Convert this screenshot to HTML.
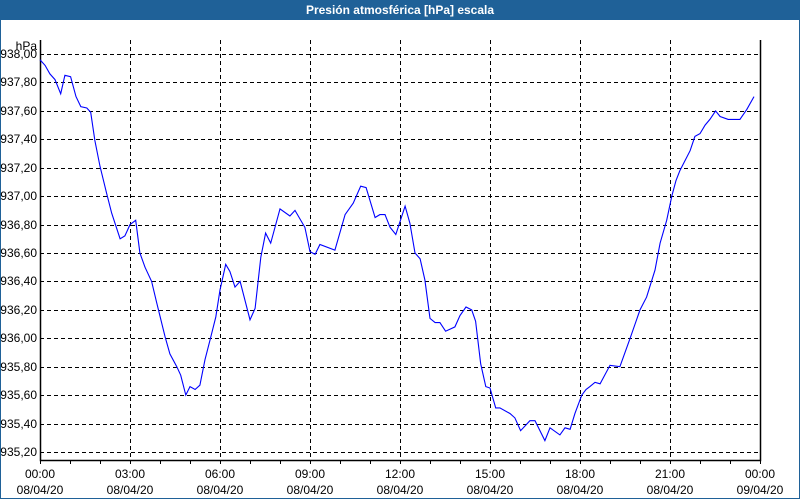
<!DOCTYPE html>
<html><head><meta charset="utf-8"><style>
body{margin:0;width:800px;height:500px;overflow:hidden;background:#fff;font-family:"Liberation Sans",sans-serif}
#frame{position:absolute;left:0;top:0;width:798px;height:498px;border:1px solid #1f6198;border-top:none}
#title{position:absolute;left:0;top:0;width:800px;height:20px;background:#1f6198;color:#fff;font-weight:bold;font-size:12px;text-align:center;line-height:20px}
svg{position:absolute;left:0;top:0}
text{font-family:"Liberation Sans",sans-serif;font-size:12px;fill:#000}
</style></head><body>
<div id="frame"></div>
<div id="title">Presión atmosférica [hPa] escala</div>
<svg id="chart" width="800" height="500"></svg>
<script>
const hours=[0,0.17,0.33,0.5,0.69,0.83,1.02,1.2,1.36,1.56,1.69,1.83,2,2.22,2.39,2.67,2.83,3,3.19,3.33,3.5,3.72,3.89,4.17,4.33,4.56,4.69,4.86,5,5.17,5.33,5.5,5.67,5.86,6,6.19,6.33,6.5,6.67,7,7.17,7.36,7.52,7.69,8,8.33,8.5,8.83,9,9.17,9.33,9.83,10.17,10.44,10.69,10.87,11.17,11.33,11.5,11.67,11.86,12.17,12.33,12.5,12.67,12.83,13,13.17,13.33,13.52,13.83,14,14.2,14.39,14.52,14.69,14.86,15,15.19,15.33,15.67,15.83,16.02,16.33,16.5,16.83,17,17.33,17.5,17.67,17.83,18.06,18.2,18.33,18.5,18.67,19,19.33,19.67,20,20.22,20.5,20.67,20.89,21.06,21.2,21.33,21.67,21.83,22,22.17,22.33,22.52,22.67,22.94,23.33,23.56,23.8];
const pressure=[937.96,937.92,937.86,937.82,937.72,937.85,937.84,937.70,937.63,937.62,937.59,937.39,937.21,937.02,936.88,936.70,936.72,936.80,936.83,936.60,936.50,936.40,936.25,936.01,935.89,935.80,935.74,935.60,935.66,935.64,935.67,935.85,935.99,936.15,936.34,936.52,936.47,936.36,936.40,936.13,936.21,936.57,936.74,936.67,936.91,936.86,936.90,936.78,936.61,936.59,936.66,936.62,936.87,936.95,937.07,937.06,936.85,936.87,936.87,936.78,936.73,936.93,936.81,936.60,936.56,936.41,936.14,936.11,936.11,936.05,936.08,936.16,936.22,936.20,936.12,935.82,935.66,935.65,935.51,935.51,935.47,935.44,935.35,935.42,935.42,935.28,935.37,935.32,935.37,935.36,935.47,935.60,935.64,935.66,935.69,935.68,935.81,935.80,936.00,936.20,936.29,936.48,936.67,936.83,937.00,937.11,937.18,937.32,937.42,937.44,937.50,937.54,937.60,937.56,937.54,937.54,937.61,937.70];
const yTicks=[938.0,937.8,937.6,937.4,937.2,937.0,936.8,936.6,936.4,936.2,936.0,935.8,935.6,935.4,935.2];
const xTickHours=[0,3,6,9,12,15,18,21,24];
const xTimeLabels=["00:00","03:00","06:00","09:00","12:00","15:00","18:00","21:00","00:00"];
const xDateLabels=["08/04/20","08/04/20","08/04/20","08/04/20","08/04/20","08/04/20","08/04/20","08/04/20","09/04/20"];
const L=40,R=760,T=40,B=460,Y0=54,Y1=452;
const xs=h=>L+(R-L)*h/24;
const ys=v=>Y0+(938.0-v)*(Y1-Y0)/2.8;
const svg=document.getElementById('chart');
const NS='http://www.w3.org/2000/svg';
function mk(tag,attrs){const e=document.createElementNS(NS,tag);for(const k in attrs)e.setAttribute(k,attrs[k]);svg.appendChild(e);return e;}
yTicks.forEach((v,i)=>{
 const g=mk('line',{x1:L,x2:R,y1:Math.round(ys(v))+0.5,y2:Math.round(ys(v))+0.5,stroke:'#000','stroke-dasharray':'4,3'});
 
 
 const t=mk('text',{x:L-3,y:Math.round(ys(v))+4,'text-anchor':'end'});
 t.textContent=v.toFixed(2).replace('.',',');
 
 
});
xTickHours.forEach((h,i)=>{
 if(h>0&&h<24){const g=mk('line',{x1:Math.round(xs(h))+0.5,x2:Math.round(xs(h))+0.5,y1:T,y2:B,stroke:'#000','stroke-dasharray':'4,3'});
 
 }
 const t1=mk('text',{x:xs(h),y:478,'text-anchor':'middle'});t1.textContent=xTimeLabels[i];
 
 
 const t2=mk('text',{x:xs(h),y:494,'text-anchor':'middle'});t2.textContent=xDateLabels[i];
 
 
});
for(let h=0;h<=24;h++){const m=mk('line',{x1:Math.round(xs(h))+0.5,x2:Math.round(xs(h))+0.5,y1:B,y2:B+4,stroke:'#000'});
 
 }
const ax=mk('path',{d:`M${L+0.5},${T} V${B+0.5} H${R+0.5} V${T}`,fill:'none',stroke:'#000','stroke-width':1.5});


const u=mk('text',{x:L-3,y:50,'text-anchor':'end'});u.textContent='hPa';


const pl=mk('polyline',{points:hours.map((h,i)=>xs(h).toFixed(1)+','+ys(pressure[i]).toFixed(1)).join(' '),fill:'none',stroke:'#0000ff','stroke-width':1.1});


</script>
</body></html>
